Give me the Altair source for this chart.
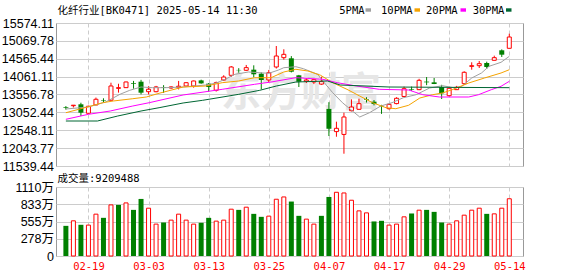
import json
import altair as alt
import pandas as pd

# ---------------- data ----------------
dates = ["02-14", "02-17", "02-18", "02-19", "02-20", "02-21", "02-24", "02-25", "02-26", "02-27", "02-28",
         "03-03", "03-04", "03-05", "03-06", "03-07", "03-10", "03-11", "03-12", "03-13", "03-14",
         "03-17", "03-18", "03-19", "03-20", "03-21", "03-24", "03-25", "03-26", "03-27", "03-28", "03-31",
         "04-01", "04-02", "04-03", "04-07", "04-08", "04-09", "04-10", "04-11", "04-14", "04-15", "04-16",
         "04-17", "04-18", "04-21", "04-22", "04-23", "04-24", "04-25", "04-28", "04-29", "04-30",
         "05-06", "05-07", "05-08", "05-09", "05-12", "05-13", "05-14"]

open_ = [13195, 13240, 13280, 13027, 13262, 13395, 13394, 13730, 13750, 13880,
         13918, 13636, 13636, 13765, 13740, 13760, 13797, 13797, 13955, 13862,
         13676, 13966, 14098, 14250, 14240, 14257, 14144, 13966, 14333, 14596,
         14578, 14098, 13930, 13910, 13850, 13150, 12510, 12430, 13100, 13139,
         13420, 13354, 13235, 13157, 13300, 13500, 13710, 13693, 13920, 13900,
         13768, 13523, 13693, 13862, 14350, 14370, 14446, 14521, 14804, 14860]
high = [13230, 13258, 13325, 13240, 13470, 13450, 13890, 13860, 13920, 13940,
        13970, 13790, 13800, 13820, 13790, 13940, 13900, 13950, 13975, 13880,
        13920, 14100, 14360, 14300, 14390, 14380, 14180, 14250, 14925, 14832,
        14640, 14110, 14020, 14000, 14060, 13340, 12790, 13043, 13420, 13438,
        13480, 13400, 13265, 13300, 13480, 13780, 13780, 14000, 14050, 14022,
        13830, 13770, 13800, 14212, 14465, 14502, 14483, 14652, 14830, 15272]
low = [13130, 13190, 12950, 13010, 13250, 13320, 13390, 13610, 13740, 13720,
       13560, 13560, 13620, 13600, 13720, 13700, 13780, 13750, 13860, 13636,
       13640, 13940, 14050, 14172, 14220, 14040, 13703, 13900, 14290, 14540,
       14180, 13768, 13880, 13850, 13830, 12385, 12365, 11886, 13080, 13120,
       13330, 13250, 13010, 13130, 13280, 13480, 13660, 13680, 13820, 13850,
       13430, 13500, 13690, 13834, 14257, 14305, 14276, 14521, 14615, 14860]
close = [13175, 13255, 13044, 13225, 13422, 13380, 13797, 13750, 13910, 13860,
         13608, 13705, 13770, 13750, 13770, 13790, 13890, 13938, 13870, 13768,
         13890, 14050, 14333, 14240, 14315, 14127, 13966, 14172, 14643, 14690,
         14200, 13918, 13966, 13975, 13920, 12590, 12603, 12922, 13204, 13298,
         13402, 13290, 13220, 13280, 13450, 13720, 13693, 13957, 13900, 13853,
         13590, 13732, 13760, 14183, 14370, 14427, 14333, 14596, 14680, 15179]

# volume in 万
volume = [485, 566, 502, 497, 673, 614, 822, 822, 854, 742,
          918, 769, 513, 539, 577, 673, 577, 513, 534, 614,
          561, 577, 753, 742, 785, 678, 630, 641, 913, 950,
          876, 646, 593, 513, 646, 950, 1025, 1014, 897, 726,
          694, 556, 566, 497, 513, 630, 684, 737, 742, 710,
          539, 513, 566, 657, 737, 769, 678, 678, 769, 920.9]
vol_dir = ["down", "up", "down", "up", "up", "down", "up", "down", "up", "down",
           "down", "up", "up", "down", "up", "up", "up", "up", "down", "down",
           "up", "up", "up", "down", "up", "down", "down", "up", "up", "up",
           "down", "down", "up", "up", "down", "down", "up", "up", "up", "up",
           "up", "down", "down", "up", "up", "up", "down", "up", "down", "down",
           "down", "up", "up", "up", "up", "up", "down", "up", "up", "up"]

# moving-average lines, points (x as trading-day position)
ma5_x = [0, 3, 5.3, 7.2, 8.5, 10, 11.5, 13.3, 15.6, 18.6, 19.9, 21.2, 22.5, 24.3, 25.7, 27, 28.3, 29,
         30.6, 31.6, 33.5, 34.2, 35.5, 36.8, 39.1, 40.4, 41.9, 43.4, 44.9, 46.6, 48.4, 50.1, 51.8, 52.7,
         54, 55.3, 56.3, 57.9, 59]
ma5_v = [13148, 13204, 13345, 13563, 13675, 13768, 13749, 13749, 13768, 13825, 13873, 13986, 14127, 14192,
         14172, 14155, 14248, 14313, 14341, 14285, 14127, 13938, 13608, 13326, 12922, 13043, 13232, 13326,
         13466, 13551, 13740, 13805, 13740, 13788, 14022, 14163, 14352, 14465, 14634]
ma10_x = [0, 3, 4.9, 6.3, 8.9, 10.7, 12.4, 15.6, 18.6, 20.8, 23, 25.1, 27.3, 29, 30.6, 32.2, 33.9, 35.5,
          37.4, 39.1, 40.8, 42.6, 43.9, 45.6, 47.1, 48.8, 50.1, 51.4, 53.6, 55.7, 57.9, 59]
ma10_v = [13043, 13212, 13326, 13373, 13438, 13486, 13591, 13768, 13796, 13890, 13938, 14031, 14031, 14192,
          14268, 14220, 14098, 13890, 13703, 13514, 13326, 13184, 13156, 13252, 13458, 13551, 13599, 13692,
          13881, 14022, 14163, 14256]
ma20_x = [0, 3, 5.9, 8.9, 11.1, 15.6, 20.8, 25.1, 27.3, 30.6, 34.2, 36.1, 38.7, 41.7, 45.6, 47.5, 49.7,
          53.6, 54.9, 56.6, 57.9, 59]
ma20_v = [12857, 12998, 13091, 13232, 13326, 13543, 13703, 13844, 13909, 14031, 13986, 13890, 13796, 13703,
          13684, 13551, 13486, 13486, 13551, 13692, 13788, 13929]
ma30_x = [0, 4.2, 6.9, 10, 12.4, 15.6, 18.2, 23, 25.8, 28, 30.6, 34.8, 36.5, 43, 59]
ma30_v = [12809, 12809, 12950, 13091, 13184, 13317, 13393, 13562, 13675, 13796, 13909, 13938, 13825, 13768,
          13749]

ma_names = ["5PMA", "10PMA", "20PMA", "30PMA"]
ma_colors = ["#a0a0a0", "#f5a300", "#ff00ff", "#006633"]

price_ticks = [11539.44, 12043.77, 12548.11, 13052.44, 13556.78, 14061.11, 14565.44, 15069.78, 15574.11]
vol_ticks = [0, 277.5, 555, 832.5, 1110]
tick_dates = ["02-19", "03-03", "03-13", "03-25", "04-07", "04-17", "04-29", "05-14"]
title_text = "化纤行业[BK0471] 2025-05-14 11:30"
vol_title = "成交量:9209488"
watermark = "东方财富"

# ---------------- tables ----------------
n = len(dates)
df = pd.DataFrame({"i": list(range(n)), "date": dates, "open": open_, "high": high,
                   "low": low, "close": close, "vol": volume, "vdir": vol_dir})
df["dir"] = ["up" if c >= o else "down" for o, c in zip(open_, close)]

ma_rows = []
for name, xs, vs in zip(ma_names, [ma5_x, ma10_x, ma20_x, ma30_x], [ma5_v, ma10_v, ma20_v, ma30_v]):
    for xv, vv in zip(xs, vs):
        ma_rows.append({"series": name, "i": xv, "value": vv})
ma_df = pd.DataFrame(ma_rows)

# ---------------- style ----------------
RED = "#ff0000"
GREEN = "#008000"
MONO = "DejaVu Sans Mono, Noto Sans CJK SC"
SANS = "Liberation Sans, Noto Sans CJK SC"
GRID = "#cccccc"

W = 467
H_PRICE = 143
H_VOL = 69

tick_idx = [dates.index(d) for d in tick_dates]
label_expr = json.dumps(dates) + "[datum.value]"

x_scale = alt.Scale(domain=[-0.65, 60.16], nice=False, zero=False)
py_scale = alt.Scale(domain=[price_ticks[0], price_ticks[-1]], nice=False, zero=False)
vy_scale = alt.Scale(domain=[vol_ticks[0], vol_ticks[-1]], nice=False, zero=True)

px_axis = alt.Axis(values=tick_idx, labels=False, ticks=False, domain=False, grid=True,
                   gridDash=[4, 3], gridColor=GRID, title=None)
py_axis = alt.Axis(values=price_ticks, format=".2f", ticks=False, domain=False, grid=True,
                   gridColor=GRID, title=None, labelFont=SANS, labelFontSize=12.5,
                   labelColor="#000000", labelPadding=2.5)
vx_axis = alt.Axis(values=tick_idx, labelExpr=label_expr, labelColor=RED, labelFont=MONO,
                   labelFontSize=10.5, ticks=False, tickSize=0, domain=False, grid=True,
                   gridDash=[4, 3], gridColor=GRID, labelPadding=5, labelFlush=False, title=None)
vy_axis = alt.Axis(values=vol_ticks,
                   labelExpr="datum.value == 0 ? '0' : format(datum.value, '.0f') + '万'",
                   ticks=False, domain=False, grid=True, gridColor=GRID, title=None,
                   labelFont=SANS, labelFontSize=12.5, labelColor="#000000", labelPadding=2.5)

X = alt.X("i:Q", scale=x_scale, axis=px_axis)

base = alt.Chart(df)

wm = alt.Chart(pd.DataFrame({"t": [watermark]})).mark_text(
    font="Noto Sans CJK SC", fontSize=40, fontWeight="bold", color="#e6e6e6"
).encode(text="t:N", x=alt.value(245), y=alt.value(71))

wick_up = base.transform_filter("datum.dir == 'up'").mark_rule(color=RED, strokeWidth=1).encode(
    x=X, y=alt.Y("low:Q", scale=py_scale, axis=py_axis), y2="high:Q")
wick_dn = base.transform_filter("datum.dir == 'down'").mark_rule(color=GREEN, strokeWidth=1).encode(
    x=X, y=alt.Y("low:Q", scale=py_scale, axis=py_axis), y2="high:Q")
body_dn = base.transform_filter("datum.dir == 'down'").mark_bar(size=5, color=GREEN).encode(
    x=X, y=alt.Y("open:Q", scale=py_scale, axis=py_axis), y2="close:Q")
body_up = base.transform_filter("datum.dir == 'up'").mark_bar(
    size=4, fill="white", stroke=RED, strokeWidth=1).encode(
    x=X, y=alt.Y("open:Q", scale=py_scale, axis=py_axis), y2="close:Q")

ma_lines = alt.Chart(ma_df).mark_line(strokeWidth=1).encode(
    x=X, y=alt.Y("value:Q", scale=py_scale, axis=py_axis),
    color=alt.Color("series:N", scale=alt.Scale(domain=ma_names, range=ma_colors), legend=None),
    order="i:Q")

title_mark = alt.Chart(pd.DataFrame({"t": [title_text]})).mark_text(
    font=MONO, fontSize=10.5, align="left", baseline="alphabetic", color="#000000"
).encode(text="t:N", x=alt.value(1.5), y=alt.value(-9.5))

legend_text_x = [283.3, 325, 370, 416.7]
legend_swatch_x = [309.5, 358.5, 404.5, 450]
legend_layers = []
for name, col, tx, sx in zip(ma_names, ma_colors, legend_text_x, legend_swatch_x):
    legend_layers.append(
        alt.Chart(pd.DataFrame({"t": [name]})).mark_text(
            font=MONO, fontSize=10.5, align="left", baseline="alphabetic", color="#000000"
        ).encode(text="t:N", x=alt.value(tx), y=alt.value(-9.5)))
    legend_layers.append(
        alt.Chart(pd.DataFrame({"t": [name]})).mark_rect(color=col).encode(
            x=alt.value(sx), x2=alt.value(sx + 5.5), y=alt.value(-14.7), y2=alt.value(-11.3)))

price = alt.layer(wm, wick_up, wick_dn, body_dn, body_up, ma_lines, title_mark,
                  *legend_layers).properties(width=W, height=H_PRICE)

VX = alt.X("i:Q", scale=x_scale, axis=vx_axis)
vol_dn = base.transform_filter("datum.vdir == 'down'").mark_bar(size=5, color=GREEN).encode(
    x=VX, y=alt.Y("vol:Q", scale=vy_scale, axis=vy_axis))
vol_up = base.transform_filter("datum.vdir == 'up'").mark_bar(
    size=4, fill="white", stroke=RED, strokeWidth=1).encode(
    x=VX, y=alt.Y("vol:Q", scale=vy_scale, axis=vy_axis))
vol_title_mark = alt.Chart(pd.DataFrame({"t": [vol_title]})).mark_text(
    font=MONO, fontSize=10.5, align="left", baseline="alphabetic", color="#000000"
).encode(text="t:N", x=alt.value(1.5), y=alt.value(-5))

vol = alt.layer(vol_dn, vol_up, vol_title_mark).properties(width=W, height=H_VOL)

chart = alt.vconcat(price, vol, spacing=21, bounds="flush").properties(
    padding={"left": 0, "top": 5, "right": 0, "bottom": 0},
    background="white",
).configure_view(stroke="#999999", strokeWidth=1)

chart.save("out.html", embed_options={"renderer": "svg", "actions": False})
